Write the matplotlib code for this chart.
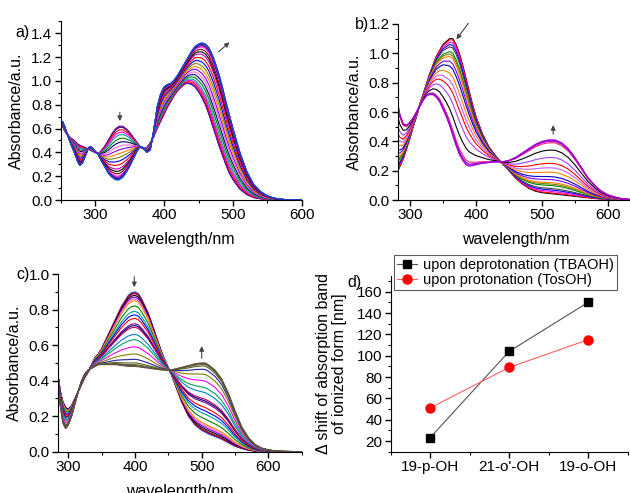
import numpy as np
import matplotlib.pyplot as plt
from matplotlib.ticker import MultipleLocator

plt.rcParams['font.family'] = ['Liberation Sans', 'DejaVu Sans']
plt.rcParams['font.size'] = 11

# ---- panel a: spectra at start / end of titration ----
wl_a = [250, 253, 256, 260, 265, 270, 275, 278, 282, 286, 290, 293, 296, 300, 305,
        310, 315, 320, 325, 330, 335, 340, 345, 350, 355, 360, 365, 370, 375, 380,
        385, 390, 395, 400, 405, 410, 415, 420, 425, 430, 435, 440, 445, 450, 455,
        460, 465, 470, 475, 480, 485, 490, 495, 500, 510, 520, 530, 540, 550, 560,
        570, 580, 590, 600]
a_start = [0.60, 0.62, 0.58, 0.55, 0.52, 0.50, 0.47, 0.46, 0.45, 0.44, 0.43, 0.42, 0.41, 0.40, 0.39,
           0.42, 0.46, 0.51, 0.56, 0.60, 0.62, 0.62, 0.60, 0.57, 0.53, 0.49, 0.45, 0.43, 0.44, 0.48,
           0.53, 0.60, 0.66, 0.72, 0.78, 0.83, 0.88, 0.92, 0.95, 0.975, 0.98, 0.97, 0.95, 0.91, 0.86,
           0.80, 0.72, 0.63, 0.54, 0.45, 0.37, 0.29, 0.22, 0.17, 0.09, 0.045, 0.02, 0.01, 0.004, 0.0,
           0.0, 0.0, 0.0, 0.0]
a_end = [0.62, 0.66, 0.62, 0.55, 0.47, 0.40, 0.32, 0.29, 0.31, 0.37, 0.43, 0.45, 0.44, 0.41, 0.38,
         0.32, 0.27, 0.22, 0.19, 0.17, 0.17, 0.19, 0.23, 0.28, 0.34, 0.40, 0.45, 0.44, 0.40, 0.42,
         0.58, 0.78, 0.89, 0.95, 0.97, 0.98, 1.01, 1.05, 1.10, 1.15, 1.20, 1.25, 1.29, 1.31, 1.32,
         1.31, 1.28, 1.22, 1.14, 1.05, 0.94, 0.82, 0.71, 0.60, 0.40, 0.24, 0.13, 0.07, 0.035, 0.015,
         0.006, 0.002, 0.0, 0.0]
# height of the 340 nm band in each recorded spectrum
a_band340 = [0.62, 0.615, 0.61, 0.59, 0.57, 0.55, 0.52, 0.49, 0.46, 0.43, 0.40, 0.37, 0.34,
             0.31, 0.28, 0.26, 0.24, 0.22, 0.21, 0.20, 0.195, 0.19, 0.19]
a_colors = ['#6000A0', '#3030D0', '#800080', '#FF0000', '#FF00FF', '#00A0A0', '#008000',
            '#000080', '#FF66CC', '#8000FF', '#FF8000', '#808000', '#0000FF', '#FF0000',
            '#C000C0', '#000000', '#800000', '#FF00FF', '#800080', '#000080', '#3050E0',
            '#0060FF', '#2040C0']

# ---- panel b ----
wl_b = [282, 285, 290, 295, 300, 305, 310, 315, 320, 325, 330, 335, 340, 345, 350,
        355, 360, 365, 370, 375, 380, 385, 390, 395, 400, 410, 420, 430, 440, 450,
        460, 470, 480, 490, 500, 510, 520, 530, 540, 550, 560, 570, 580, 590, 600,
        610, 620, 630, 640]
b_start = [0.20, 0.23, 0.28, 0.35, 0.42, 0.50, 0.57, 0.65, 0.72, 0.79, 0.86, 0.92, 0.98, 1.02, 1.06,
           1.08, 1.10, 1.10, 1.06, 1.00, 0.92, 0.83, 0.74, 0.65, 0.57, 0.45, 0.36, 0.30, 0.25, 0.20,
           0.15, 0.11, 0.08, 0.06, 0.05, 0.045, 0.04, 0.035, 0.03, 0.025, 0.02, 0.015, 0.01, 0.007, 0.005,
           0.003, 0.0, 0.0, 0.0]
b_end = [0.65, 0.58, 0.52, 0.51, 0.53, 0.56, 0.60, 0.64, 0.68, 0.71, 0.72, 0.72, 0.70, 0.67, 0.62,
         0.57, 0.51, 0.44, 0.37, 0.31, 0.27, 0.24, 0.23, 0.235, 0.24, 0.25, 0.255, 0.26, 0.26, 0.27,
         0.29, 0.32, 0.35, 0.38, 0.40, 0.41, 0.41, 0.39, 0.35, 0.29, 0.22, 0.15, 0.10, 0.06, 0.035,
         0.02, 0.01, 0.005, 0.0]
# height of the 510 nm band in each recorded spectrum
b_band510 = [0.045, 0.05, 0.06, 0.07, 0.08, 0.10, 0.11, 0.12, 0.14, 0.16, 0.19, 0.22,
             0.25, 0.29, 0.34, 0.39, 0.40, 0.405, 0.41]
b_colors = ['#000000', '#FF0000', '#FF00FF', '#0000FF', '#404040', '#008000', '#808000',
            '#FF8000', '#8000FF', '#0000C0', '#FF8000', '#C060FF', '#FF0000', '#A040FF',
            '#000000', '#FF2060', '#8000FF', '#C000E0', '#A000C0']

# ---- panel c ----
wl_c = [285, 288, 292, 296, 300, 305, 310, 315, 320, 325, 330, 335, 340, 345, 350,
        360, 370, 380, 390, 395, 400, 405, 410, 420, 430, 440, 450, 455, 460, 470,
        480, 490, 500, 505, 510, 520, 530, 540, 550, 560, 570, 580, 590, 600, 610,
        620, 650]
c_start = [0.42, 0.34, 0.28, 0.25, 0.24, 0.26, 0.30, 0.34, 0.38, 0.42, 0.45, 0.49, 0.53, 0.55, 0.58,
           0.66, 0.74, 0.82, 0.88, 0.895, 0.90, 0.89, 0.86, 0.78, 0.67, 0.56, 0.47, 0.43, 0.38, 0.28,
           0.20, 0.15, 0.12, 0.11, 0.10, 0.085, 0.07, 0.05, 0.03, 0.018, 0.008, 0.003, 0.0, 0.0, 0.0,
           0.0, 0.0]
c_end = [0.40, 0.26, 0.16, 0.13, 0.15, 0.20, 0.27, 0.34, 0.40, 0.44, 0.46, 0.47, 0.48, 0.49, 0.49,
         0.49, 0.49, 0.485, 0.48, 0.48, 0.48, 0.478, 0.475, 0.47, 0.465, 0.46, 0.46, 0.462, 0.465, 0.475,
         0.485, 0.495, 0.50, 0.50, 0.49, 0.46, 0.41, 0.33, 0.23, 0.14, 0.08, 0.04, 0.02, 0.01, 0.005,
         0.002, 0.0]
# height of the 400 nm band in each recorded spectrum
c_band400 = [0.90, 0.895, 0.89, 0.88, 0.87, 0.86, 0.85, 0.82, 0.79, 0.77, 0.75, 0.72,
             0.71, 0.70, 0.66, 0.63, 0.59, 0.55, 0.52, 0.50, 0.49, 0.485, 0.48]
c_colors = ['#2050FF', '#C00000', '#800040', '#000000', '#8000FF', '#FF66CC', '#FF8000',
            '#008000', '#00A0A0', '#0000FF', '#FF0000', '#800080', '#000080', '#C00060',
            '#0080C0', '#00A060', '#FF00FF', '#808000', '#2020A0', '#606020', '#406030',
            '#705030', '#605040']

# ---- panel d ----
compounds = ['19-p-OH', "21-o'-OH", '19-o-OH']
shift_deprot = [23, 104, 150]
shift_prot = [51, 89, 115]


def titration(ax, wl, start, end, heights, ref_nm, colors):
    wl = np.array(wl)
    start = np.array(start)
    end = np.array(end)
    i = list(wl).index(ref_nm)
    for k, h in enumerate(heights):
        f = (h - start[i]) / (end[i] - start[i])
        ax.plot(wl, start + f * (end - start), color=colors[k % len(colors)], lw=0.8)


def style(ax, xmaj, xmin, ymaj, ymin):
    for s in ['top', 'right']:
        ax.spines[s].set_visible(False)
    ax.xaxis.set_major_locator(MultipleLocator(xmaj))
    ax.xaxis.set_minor_locator(MultipleLocator(xmin))
    ax.yaxis.set_major_locator(MultipleLocator(ymaj))
    ax.yaxis.set_minor_locator(MultipleLocator(ymin))
    ax.tick_params(which='major', direction='out', length=4, width=1, pad=2)
    ax.tick_params(which='minor', direction='out', length=2.5, width=0.8)


def arrow(ax, x0, y0, x1, y1):
    ax.annotate('', xy=(x1, y1), xytext=(x0, y0), annotation_clip=False,
                arrowprops=dict(arrowstyle='-|>', color='#444444', lw=0.8, mutation_scale=7))


W, H = 630, 493
fig = plt.figure(figsize=(W / 100, H / 100), dpi=100)


def px_axes(left, right, bottom, top):
    return fig.add_axes([left / W, 1 - bottom / H, (right - left) / W, (bottom - top) / H])


# a)
ax = px_axes(60.5, 302, 200, 21.5)
titration(ax, wl_a, a_start, a_end, a_band340, 340, a_colors)
style(ax, 100, 50, 0.2, 0.1)
ax.set_xlim(250, 600)
ax.set_ylim(0, 1.5)
ax.set_yticks(np.arange(0, 1.41, 0.2))
ax.set_xlabel('wavelength/nm', fontsize=11.5, labelpad=7)
ax.set_ylabel('Absorbance/a.u.', fontsize=11.5, labelpad=5)
arrow(ax, 336, 0.76, 336, 0.64)
arrow(ax, 476, 1.23, 498, 1.34)
fig.text(23 / W, 1 - 33 / H, 'a)', ha='center', va='center', fontsize=11.5)

# b)
ax = px_axes(398, 634.4, 200, 24)
titration(ax, wl_b, b_start, b_end, b_band510, 510, b_colors)
style(ax, 100, 50, 0.2, 0.1)
ax.set_xlim(282, 640)
ax.set_ylim(0, 1.2)
ax.set_xlabel('wavelength/nm', fontsize=11.5, labelpad=7)
ax.set_ylabel('Absorbance/a.u.', fontsize=11.5, labelpad=5)
arrow(ax, 391, 1.22, 368, 1.08)
arrow(ax, 517, 0.43, 517, 0.53)
fig.text(362 / W, 1 - 25 / H, 'b)', ha='center', va='center', fontsize=11.5)

# c)
ax = px_axes(58.3, 301.7, 451.7, 274)
titration(ax, wl_c, c_start, c_end, c_band400, 400, c_colors)
style(ax, 100, 50, 0.2, 0.1)
ax.set_xlim(285, 650)
ax.set_ylim(0, 1.0)
ax.set_xlabel('wavelength/nm', fontsize=11.5, labelpad=7)
ax.set_ylabel('Absorbance/a.u.', fontsize=11.5, labelpad=5)
arrow(ax, 399, 1.0, 399, 0.91)
arrow(ax, 500, 0.51, 500, 0.61)
fig.text(23 / W, 1 - 275 / H, 'c)', ha='center', va='center', fontsize=11.5)

# d)
ax = px_axes(390.5, 627.5, 451.7, 275.8)
xpos = np.arange(len(compounds))
ax.plot(xpos, shift_deprot, color='#555555', lw=0.8, marker='s', ms=6,
        mfc='black', mec='black', label='upon deprotonation (TBAOH)')
ax.plot(xpos, shift_prot, color='#FF6060', lw=0.8, marker='o', ms=6.5,
        mfc='red', mec='red', label='upon protonation (TosOH)')
style(ax, 1, 0.5, 20, 10)
ax.set_xlim(-0.5, 2.5)
ax.set_ylim(10, 175)
ax.set_yticks(np.arange(20, 161, 20))
ax.set_xticks(xpos)
ax.set_xticklabels(compounds)
ax.set_ylabel('\u0394 shift of absorption band\nof ionized form [nm]', fontsize=11.5,
              labelpad=7, linespacing=1.05)
leg = ax.legend(loc='upper left', bbox_to_anchor=(394 / W, 1 - 255 / H),
                bbox_transform=fig.transFigure, fontsize=10.5, frameon=True, fancybox=False,
                borderaxespad=0, borderpad=0.2, labelspacing=0.1, handlelength=1.4,
                handletextpad=0.4)
leg.get_frame().set_edgecolor('#333333')
leg.get_frame().set_linewidth(0.8)
fig.text(354 / W, 1 - 283 / H, 'd)', ha='center', va='center', fontsize=11.5)

fig.savefig('out.png', dpi=100)
